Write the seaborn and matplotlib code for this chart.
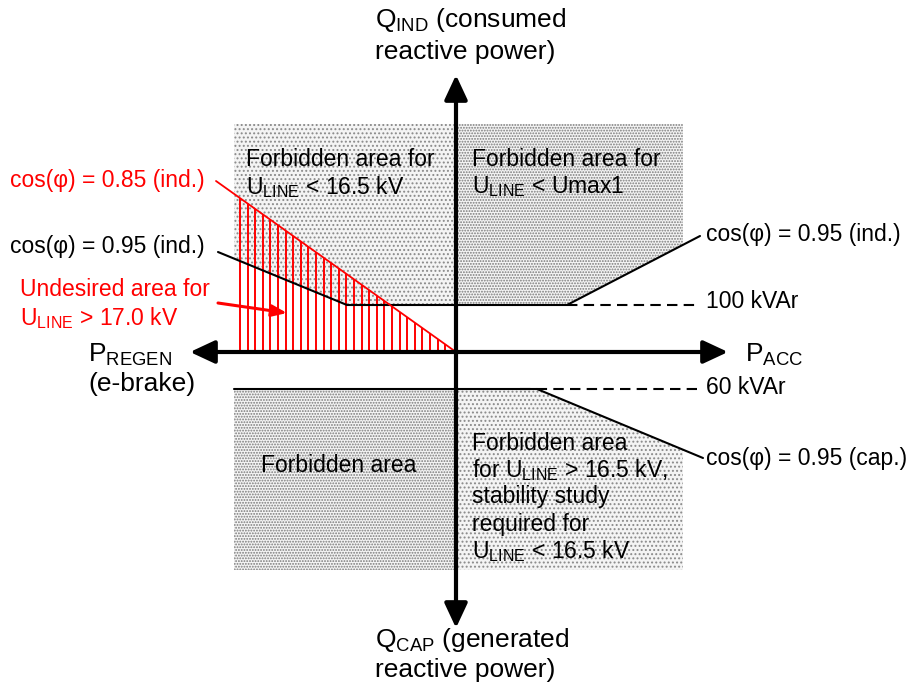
import numpy as np
import pandas as pd
import matplotlib.pyplot as plt
import seaborn as sns

# diagram coordinates: P (active power) on x, Q (reactive power) on y, origin at the axes crossing
p_axis = [-266, 272]
q_axis = [-276, 277]

# shaded forbidden areas (outline points)
upper_left_p = [-222, 0, 0, -109, -222]
upper_left_q = [228, 228, 47, 47, 93]
upper_right_p = [0, 227, 227, 111, 0]
upper_right_q = [228, 228, 107, 47, 47]
lower_left_p = [-222, 0, 0, -222]
lower_left_q = [-37, -37, -218, -218]
lower_right_p = [0, 81, 227, 227, 0]
lower_right_q = [-37, -37, -98, -218, -218]

# limit lines
cos095_ind_p = [-238, -109, 111, 244]
cos095_ind_q = [100, 47, 47, 116]
cos095_cap_p = [-222, 81, 247]
cos095_cap_q = [-37, -37, -106]
cos085_p = [-240, 0]
cos085_q = [171, 0]
lim100_p = [111, 241]
lim100_q = [47, 47]
lim60_p = [64, 241]
lim60_q = [-37, -37]

# undesired (red hatched) area
hatch_start, hatch_end, hatch_step = -216, -4, 7.6

RED = "#ff0000"

sns.set_style("white")
plt.rcParams['font.family'] = ['Liberation Sans', 'DejaVu Sans']
plt.rcParams['text.color'] = 'black'
plt.rcParams['mathtext.fontset'] = 'custom'
plt.rcParams['mathtext.rm'] = 'Liberation Sans'
plt.rcParams['mathtext.it'] = 'Liberation Sans'
plt.rcParams['hatch.linewidth'] = 0.9

fig = plt.figure(figsize=(9.13, 6.93), dpi=100)
ax = fig.add_axes([0, 0, 1, 1])
ax.set_xlim(-456, 457)
ax.set_ylim(-341, 352)
ax.axis('off')

# dotted forbidden areas
for pp, qq, hatch, dot in [(upper_left_p, upper_left_q, '....', '#8a8a8a'),
                           (upper_right_p, upper_right_q, '......', '#7a7a7a'),
                           (lower_left_p, lower_left_q, '......', '#7a7a7a'),
                           (lower_right_p, lower_right_q, '....', '#8a8a8a')]:
    ax.fill(pp, qq, facecolor='#f4f4f4', edgecolor=dot, hatch=hatch, linewidth=0, zorder=1)

# red vertical hatch under the cos(phi)=0.85 line
slope = cos085_q[0] / cos085_p[0]
hx = np.arange(hatch_start, hatch_end, hatch_step)
ax.vlines(hx, 2, slope * hx, color=RED, linewidth=1.4, zorder=2)


def line(pp, qq, color='black', lw=1.5, ls='-'):
    df = pd.DataFrame({'P': pp, 'Q': qq})
    sns.lineplot(data=df, x='P', y='Q', sort=False, estimator=None, color=color,
                 linewidth=lw, linestyle=ls, ax=ax, zorder=3)


line(cos095_ind_p, cos095_ind_q)
line(cos095_cap_p, cos095_cap_q)
line(cos085_p, cos085_q, color=RED, lw=1.3)
line(lim100_p, lim100_q, ls=(0, (5, 3)))
line(lim60_p, lim60_q, ls=(0, (5, 3)))
ax.set_xlabel('')
ax.set_ylabel('')
ax.set_xlim(-456, 457)
ax.set_ylim(-341, 352)

# main axes with arrows
arrow = dict(arrowstyle='<|-|>,head_length=1.5,head_width=0.7', lw=3, color='black',
             shrinkA=0, shrinkB=0)
ax.annotate('', xy=(p_axis[1], 0), xytext=(p_axis[0], 0), arrowprops=arrow, zorder=5)
ax.annotate('', xy=(0, q_axis[1]), xytext=(0, q_axis[0]), arrowprops=arrow, zorder=5)

# red pointer into undesired area
ax.annotate('', xy=(-169, 39), xytext=(-238, 49),
            arrowprops=dict(arrowstyle='-|>,head_length=0.9,head_width=0.35', lw=2.2,
                            color=RED, shrinkA=0, shrinkB=0), zorder=5)

big = 19
mid = 16.5
txt = dict(ha='left', va='center', color='black')
red = dict(ha='left', va='center', color=RED)
ULINE = r'U$_{\mathrm{LINE}}$'

ax.text(-81, 332, r'Q$_{\mathrm{IND}}$ (consumed', fontsize=big, **txt)
ax.text(-81, 300, 'reactive power)', fontsize=big, **txt)
ax.text(-81, -288, r'Q$_{\mathrm{CAP}}$ (generated', fontsize=big, **txt)
ax.text(-81, -318, 'reactive power)', fontsize=big, **txt)
ax.text(-368, -3, r'P$_{\mathrm{REGEN}}$', fontsize=big, **txt)
ax.text(-368, -32, '(e-brake)', fontsize=big, **txt)
ax.text(289, -3, r'P$_{\mathrm{ACC}}$', fontsize=big, **txt)

ax.text(-210, 192, 'Forbidden area for', fontsize=mid, **txt)
ax.text(-210, 165, ULINE + ' < 16.5 kV', fontsize=mid, **txt)
ax.text(16, 192, 'Forbidden area for', fontsize=mid, **txt)
ax.text(16, 165, ULINE + ' < Umax1', fontsize=mid, **txt)

ax.text(-446, 172, 'cos(φ) = 0.85 (ind.)', fontsize=mid, **red)
ax.text(-446, 106, 'cos(φ) = 0.95 (ind.)', fontsize=mid, **txt)
ax.text(-436, 63, 'Undesired area for', fontsize=mid, **red)
ax.text(-436, 34, ULINE + ' > 17.0 kV', fontsize=mid, **red)

ax.text(250, 118, 'cos(φ) = 0.95 (ind.)', fontsize=mid, **txt)
ax.text(250, 50, '100 kVAr', fontsize=mid, **txt)
ax.text(250, -35, '60 kVAr', fontsize=mid, **txt)
ax.text(250, -106, 'cos(φ) = 0.95 (cap.)', fontsize=mid, **txt)

ax.text(-195, -113, 'Forbidden area', fontsize=mid, **txt)
block = ['Forbidden area', 'for ' + ULINE + ' > 16.5 kV,', 'stability study',
         'required for', ULINE + ' < 16.5 kV']
for i, s in enumerate(block):
    ax.text(16, -91 - 27 * i, s, fontsize=mid, **txt)

plt.savefig('out.png', dpi=100)
